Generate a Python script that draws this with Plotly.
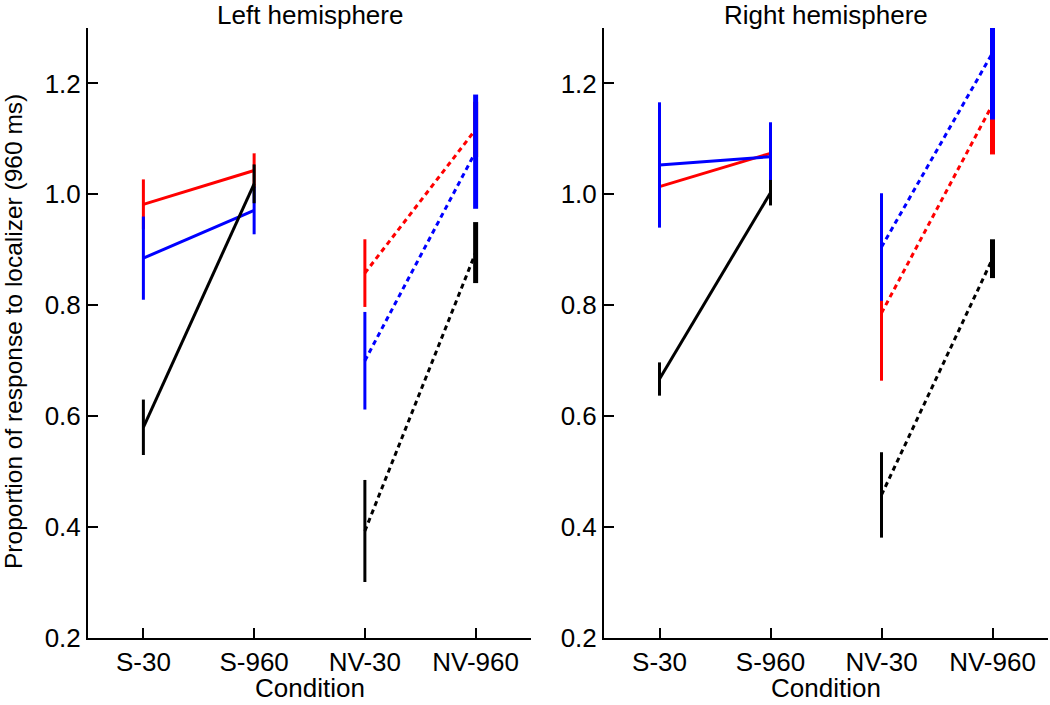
import plotly.graph_objects as go

conditions = ["S-30", "S-960", "NV-30", "NV-960"]
xpos = [1, 2, 3, 4]

left_red_mean = [0.982, 1.043, 0.858, 1.117]
left_red_err = [0.045, 0.031, 0.061, 0.050]
left_blue_mean = [0.885, 0.971, 0.700, 1.077]
left_blue_err = [0.075, 0.043, 0.088, 0.103]
left_black_mean = [0.580, 1.019, 0.393, 0.895]
left_black_err = [0.050, 0.035, 0.092, 0.055]

right_red_mean = [1.014, 1.074, 0.786, 1.162]
right_red_err = [0.050, 0.030, 0.122, 0.090]
right_blue_mean = [1.053, 1.068, 0.905, 1.255]
right_blue_err = [0.113, 0.062, 0.097, 0.120]
right_black_mean = [0.667, 1.003, 0.458, 0.884]
right_black_err = [0.030, 0.023, 0.077, 0.035]

ytick_vals = [0.2, 0.4, 0.6, 0.8, 1.0, 1.2]
ytick_text = ["0.2", "0.4", "0.6", "0.8", "1.0", "1.2"]

FONT = "Liberation Sans, Arial, sans-serif"
FS = 26
bar_widths = [3, 3, 3, 5]

fig = go.Figure()


def add_group(mean, err, color, xa, ya):
    # error bars
    for i in range(len(xpos)):
        fig.add_trace(go.Scatter(
            x=[xpos[i], xpos[i]], y=[mean[i] - err[i], mean[i] + err[i]],
            mode="lines", line=dict(color=color, width=bar_widths[i]),
            xaxis=xa, yaxis=ya, showlegend=False, hoverinfo="skip"))
    # solid S segment
    fig.add_trace(go.Scatter(
        x=xpos[0:2], y=mean[0:2], mode="lines",
        line=dict(color=color, width=3),
        xaxis=xa, yaxis=ya, showlegend=False))
    # dotted NV segment
    fig.add_trace(go.Scatter(
        x=xpos[2:4], y=mean[2:4], mode="lines",
        line=dict(color=color, width=3, dash="5px,4px"),
        xaxis=xa, yaxis=ya, showlegend=False))


add_group(left_red_mean, left_red_err, "#ff0000", "x", "y")
add_group(left_blue_mean, left_blue_err, "#0000ff", "x", "y")
add_group(left_black_mean, left_black_err, "#000000", "x", "y")
add_group(right_red_mean, right_red_err, "#ff0000", "x2", "y2")
add_group(right_blue_mean, right_blue_err, "#0000ff", "x2", "y2")
add_group(right_black_mean, right_black_err, "#000000", "x2", "y2")

W, H = 1050, 705
ydom = [(H - 638) / H, (H - 28) / H]

xcommon = dict(range=[0.5, 4.5], tickvals=xpos, ticktext=conditions,
               ticks="inside", ticklen=10, tickwidth=2, tickcolor="black",
               showline=True, linewidth=2, linecolor="black", showgrid=False,
               zeroline=False, tickfont=dict(family=FONT, size=FS, color="black"),
               automargin=False, fixedrange=True)
ycommon = dict(range=[0.2, 1.3], tickvals=ytick_vals, ticktext=ytick_text,
               ticks="inside", ticklen=10, tickwidth=2, tickcolor="black",
               showline=True, linewidth=2, linecolor="black", showgrid=False,
               zeroline=False, tickfont=dict(family=FONT, size=FS, color="black"),
               automargin=False, fixedrange=True, domain=ydom)

fig.update_layout(
    width=W, height=H,
    margin=dict(l=0, r=0, t=0, b=0),
    paper_bgcolor="white", plot_bgcolor="white",
    showlegend=False,
    xaxis=dict(domain=[88 / W, 531 / W], anchor="y", **xcommon),
    yaxis=dict(anchor="x", **ycommon),
    xaxis2=dict(domain=[604 / W, 1048 / W], anchor="y2", **xcommon),
    yaxis2=dict(anchor="x2", **ycommon),
    font=dict(family=FONT, color="black"),
    annotations=[
        dict(text="Left hemisphere", x=(88 + 531) / 2 / W, y=1 - 15 / H,
             xref="paper", yref="paper", showarrow=False,
             font=dict(size=FS, family=FONT), xanchor="center", yanchor="middle"),
        dict(text="Right hemisphere", x=(604 + 1048) / 2 / W, y=1 - 15 / H,
             xref="paper", yref="paper", showarrow=False,
             font=dict(size=FS, family=FONT), xanchor="center", yanchor="middle"),
        dict(text="Condition", x=(88 + 531) / 2 / W, y=1 - 688 / H,
             xref="paper", yref="paper", showarrow=False,
             font=dict(size=FS, family=FONT), xanchor="center", yanchor="middle"),
        dict(text="Condition", x=(604 + 1048) / 2 / W, y=1 - 688 / H,
             xref="paper", yref="paper", showarrow=False,
             font=dict(size=FS, family=FONT), xanchor="center", yanchor="middle"),
        dict(text="Proportion of response to localizer (960 ms)",
             x=13 / W, y=1 - 332 / H, xref="paper", yref="paper",
             showarrow=False, textangle=-90,
             font=dict(size=24.5, family=FONT), xanchor="center", yanchor="middle"),
    ],
)

fig.write_html("out.html", config={"displayModeBar": False},
               post_script="document.body.style.margin='0';document.body.style.padding='0';document.body.style.overflow='hidden';")
